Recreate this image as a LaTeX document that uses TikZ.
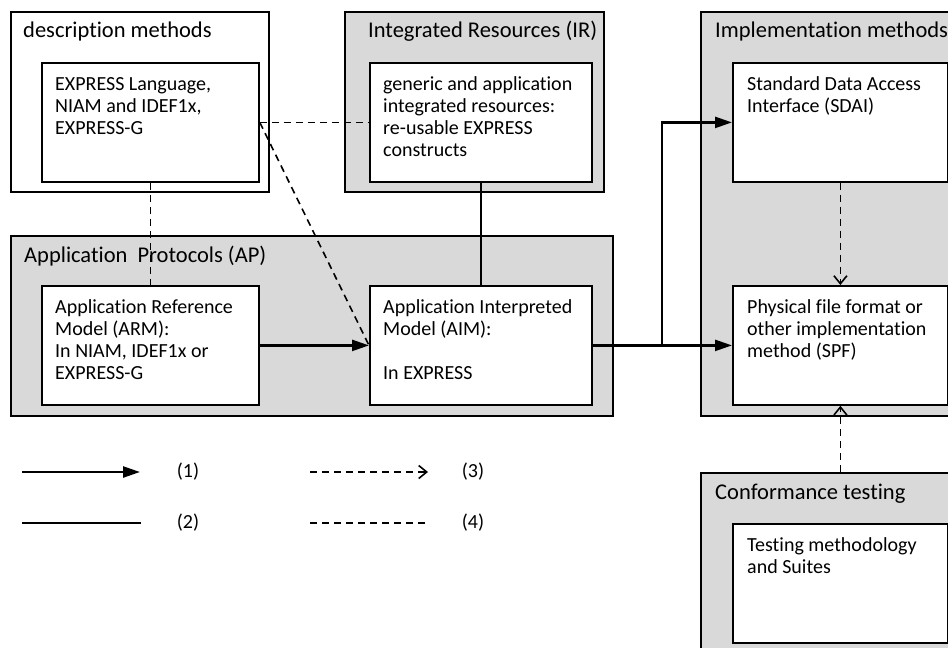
\documentclass[tikz,border=0pt]{standalone}
\usepackage{fontspec}
\setmainfont{Carlito}[Ligatures={NoCommon,NoRequired,NoContextual},RawFeature={-liga;-clig;-calt;-rlig;-dlig}]
\usetikzlibrary{arrows.meta}
\definecolor{panel}{HTML}{D9D9D9}
\begin{document}
\begin{tikzpicture}[x=1pt,y=-1pt,
  outerbox/.style={draw=black, line width=1.8pt, fill=panel, rectangle, inner sep=0pt, anchor=north west},
  innerbox/.style={draw=black, line width=1.8pt, fill=white, rectangle, inner sep=0pt, anchor=north west},
  ttl/.style={font=\fontsize{22.5}{27}\selectfont, inner sep=0pt, anchor=base west},
  txt/.style={font=\fontsize{20}{22}\selectfont, inner sep=0pt, anchor=north west, align=left},
  lbl/.style={font=\fontsize{20}{22}\selectfont, inner sep=0pt, anchor=base},
  solidarrow/.style={line width=2.4pt, -{Triangle[length=17pt,width=11pt]}},
  solidline/.style={line width=2.4pt},
  dashline/.style={line width=1.6pt, dash pattern=on 7pt off 5pt},
  dasharrow/.style={dashline, -{Straight Barb[length=8pt,width=13pt,line width=1.6pt]}},
]
\useasboundingbox (0,0) rectangle (948,648);
\clip (0,0) rectangle (948,648);
\fill[white] (0,0) rectangle (948,648);

% outer panels
\node[outerbox, fill=white, minimum width=258pt, minimum height=180pt] (descO) at (10,11) {};
\node[outerbox, minimum width=259pt, minimum height=180pt] (irO) at (344,11) {};
\node[outerbox, minimum width=279pt, minimum height=404pt] (impO) at (700,11) {};
\node[outerbox, minimum width=602pt, minimum height=180pt] (apO) at (10,235) {};
\node[outerbox, minimum width=279pt, minimum height=200pt] (ctO) at (700,472) {};

% titles
\node[ttl] (descTitle) at (23,37.5) {description methods};
\node[ttl] (irTitle) at (368,37.5) {Integrated Resources (IR)};
\node[ttl] (impTitle) at (715,37.5) {Implementation methods};
\node[ttl] (apTitle) at (24,262) {Application\ \ Protocols (AP)};
\node[ttl] (ctTitle) at (715,499) {Conformance testing};

% inner boxes
\node[innerbox, minimum width=217pt, minimum height=119pt] (desc) at (41,62) {};
\node[innerbox, minimum width=222pt, minimum height=119pt] (ir) at (369,62) {};
\node[innerbox, minimum width=215pt, minimum height=119pt] (sdai) at (732,62) {};
\node[innerbox, minimum width=217pt, minimum height=119pt] (arm) at (41,285) {};
\node[innerbox, minimum width=222pt, minimum height=119pt] (aim) at (369,285) {};
\node[innerbox, minimum width=215pt, minimum height=119pt] (spf) at (732,285) {};
\node[innerbox, minimum width=215pt, minimum height=119pt] (test) at (732,523) {};

% inner texts
\node[txt] (descT) at (55,74.6) {\strut EXPRESS Language,\\NIAM and IDEF1x,\\EXPRESS-G};
\node[txt] (irT) at (383,74.6) {\strut generic and application\\integrated resources:\\re-usable EXPRESS\\constructs};
\node[txt] (sdaiT) at (747,74.6) {\strut Standard Data Access\\Interface (SDAI)};
\node[txt] (armT) at (55,297.6) {\strut Application Reference\\Model (ARM):\\In NIAM, IDEF1x or\\EXPRESS-G};
\node[txt] (aimT) at (383,297.6) {\strut Application Interpreted\\Model (AIM):\\\strut\\In EXPRESS};
\node[txt] (spfT) at (747,297.6) {\strut Physical file format or\\other implementation\\method (SPF)};
\node[txt] (testT) at (747,535.6) {\strut Testing methodology\\and Suites};

% connectors
\draw[dashline] (desc.east) -- (ir.west);
\draw[dashline] (desc.east) -- (aim.west);
\draw[dashline] (desc.south) -- (arm.north);
\draw[solidline] (ir.south) -- (aim.north);
\draw[solidarrow] (arm.east) -- (aim.west);
\draw[solidarrow] (aim.east) -- (spf.west);
\coordinate (branch) at (662,344.5);
\draw[solidarrow] (branch) |- (sdai.west);
\draw[dasharrow] (sdai.south) -- (spf.north);
\draw[dasharrow] (ctO.north) -- (spf.south);

% legend
\coordinate (l1a) at (22,472); \coordinate (l1b) at (140,472);
\draw[solidarrow] (l1a) -- (l1b);
\node[lbl] (l1) at (188,477.5) {(1)};
\coordinate (l2a) at (22,523); \coordinate (l2b) at (141,523);
\draw[solidline] (l2a) -- (l2b);
\node[lbl] (l2) at (188,528.5) {(2)};
\coordinate (l3a) at (310,472); \coordinate (l3b) at (428,472);
\draw[dasharrow] (l3a) -- (l3b);
\node[lbl] (l3) at (473,477.5) {(3)};
\coordinate (l4a) at (310,523); \coordinate (l4b) at (428,523);
\draw[dashline] (l4a) -- (l4b);
\node[lbl] (l4) at (473,528.5) {(4)};
\end{tikzpicture}
\end{document}
